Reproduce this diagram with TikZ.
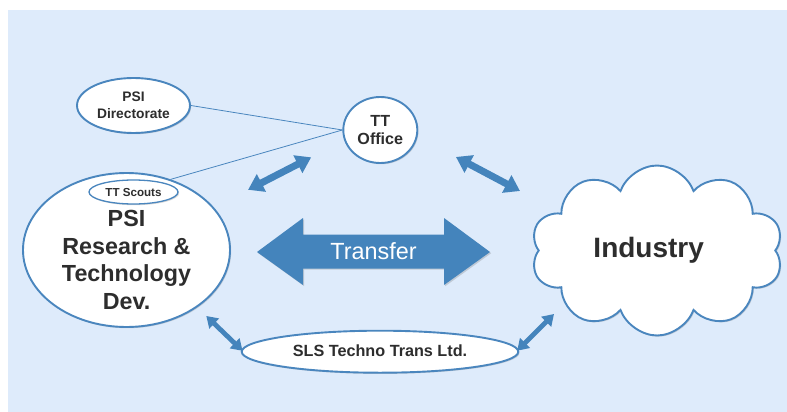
\documentclass[tikz,border=0pt]{standalone}
\usepackage{fontspec}
\setmainfont{Liberation Sans}
\usetikzlibrary{shapes.geometric,shapes.symbols,arrows.meta,shadows}
\definecolor{bgblue}{RGB}{222,235,251}
\definecolor{lineblue}{RGB}{74,134,190}
\definecolor{arrowblue}{RGB}{68,132,188}
\definecolor{txt}{RGB}{45,45,45}
\tikzset{
  shad/.style={drop shadow={shadow xshift=1.2pt,shadow yshift=-1.2pt,opacity=0.25,fill=black!60}},
  ell/.style={ellipse,draw=lineblue,line width=1.9pt,fill=white,inner sep=0pt,text=txt,align=center,shad},
  thinline/.style={draw=lineblue,line width=0.8pt},
  dblarr/.style={draw=arrowblue,line width=7pt,{Triangle[length=15pt,width=19pt]}-{Triangle[length=15pt,width=19pt]}},
  smallarr/.style={draw=arrowblue,line width=4.8pt,{Triangle[length=11pt,width=13.5pt]}-{Triangle[length=11pt,width=13.5pt]}},
}
\begin{document}
\begin{tikzpicture}[x=1pt,y=-1pt]
\useasboundingbox (0,0) rectangle (787,412);
\fill[bgblue] (8,10) rectangle (787,412);

% nodes
\node[ell,minimum width=113pt,minimum height=55pt,font=\bfseries\fontsize{13.8}{17.3}\selectfont] (dir) at (133.5,105.5) {PSI\\Directorate};
\node[ell,minimum width=74pt,minimum height=66pt,font=\bfseries\fontsize{16.1}{18.5}\selectfont] (tt) at (380.3,130) {TT\\Office};
\node[ell,minimum width=207pt,minimum height=154pt] (psi) at (126.5,250) {};
\node[ell,minimum width=89pt,minimum height=24pt,line width=1.3pt,drop shadow={opacity=0}] (scouts) at (133.5,192) {};
\node[anchor=base,text=txt,font=\bfseries\fontsize{11.6}{14}\selectfont] (scoutstxt) at (133.5,196) {TT Scouts};
\node[text=txt,align=center,font=\bfseries\fontsize{23.3}{27.8}\selectfont] (psitxt) at (126.5,260) {PSI\\Research \&\\Technology\\Dev.};
\node[ell,minimum width=276.6pt,minimum height=42pt] (sls) at (380,351.7) {};
\node[anchor=base,text=txt,font=\bfseries\fontsize{16.2}{18}\selectfont] (slstxt) at (380,356.7) {SLS Techno Trans Ltd.};
\node[cloud,cloud puffs=10,cloud puff arc=140,aspect=1.47,minimum width=252pt,minimum height=170pt,draw=lineblue,line width=1.9pt,fill=white,inner sep=0pt,shad,shape border rotate=8] (ind) at (657,250.5) {};
\node[anchor=base,text=txt,font=\bfseries\fontsize{28}{32}\selectfont] (indtxt) at (648.7,257.3) {Industry};

% big transfer arrow
\fill[arrowblue,shad] (257,252) -- (303,218) -- (303,234.5) -- (444,234.5) -- (444,218) -- (490,252) -- (444,285) -- (444,268.5) -- (303,268.5) -- (303,285) -- cycle;
\node[anchor=base,text=white,font=\fontsize{23.4}{26}\selectfont] (transfer) at (373.5,259.3) {Transfer};

% thin connectors
\draw[thinline] (dir.east) -- (tt.west);
\draw[thinline] (psi.58) -- (tt.west);

% double arrows
\coordinate (c2) at (520,191);
\coordinate (c4) at (554,314);
\draw[dblarr,shorten <=38.4pt,shorten >=37.1pt] (psi.26.3) -- (tt.196.2);
\draw[dblarr,shorten <=43.5pt] (tt.-10.6) -- (c2);
\draw[smallarr,shorten <=12.5pt,shorten >=14.1pt] (psi.-39.3) -- (sls.184.8);
\draw[smallarr,shorten <=14pt] (sls.-4.9) -- (c4);
\end{tikzpicture}
\end{document}
